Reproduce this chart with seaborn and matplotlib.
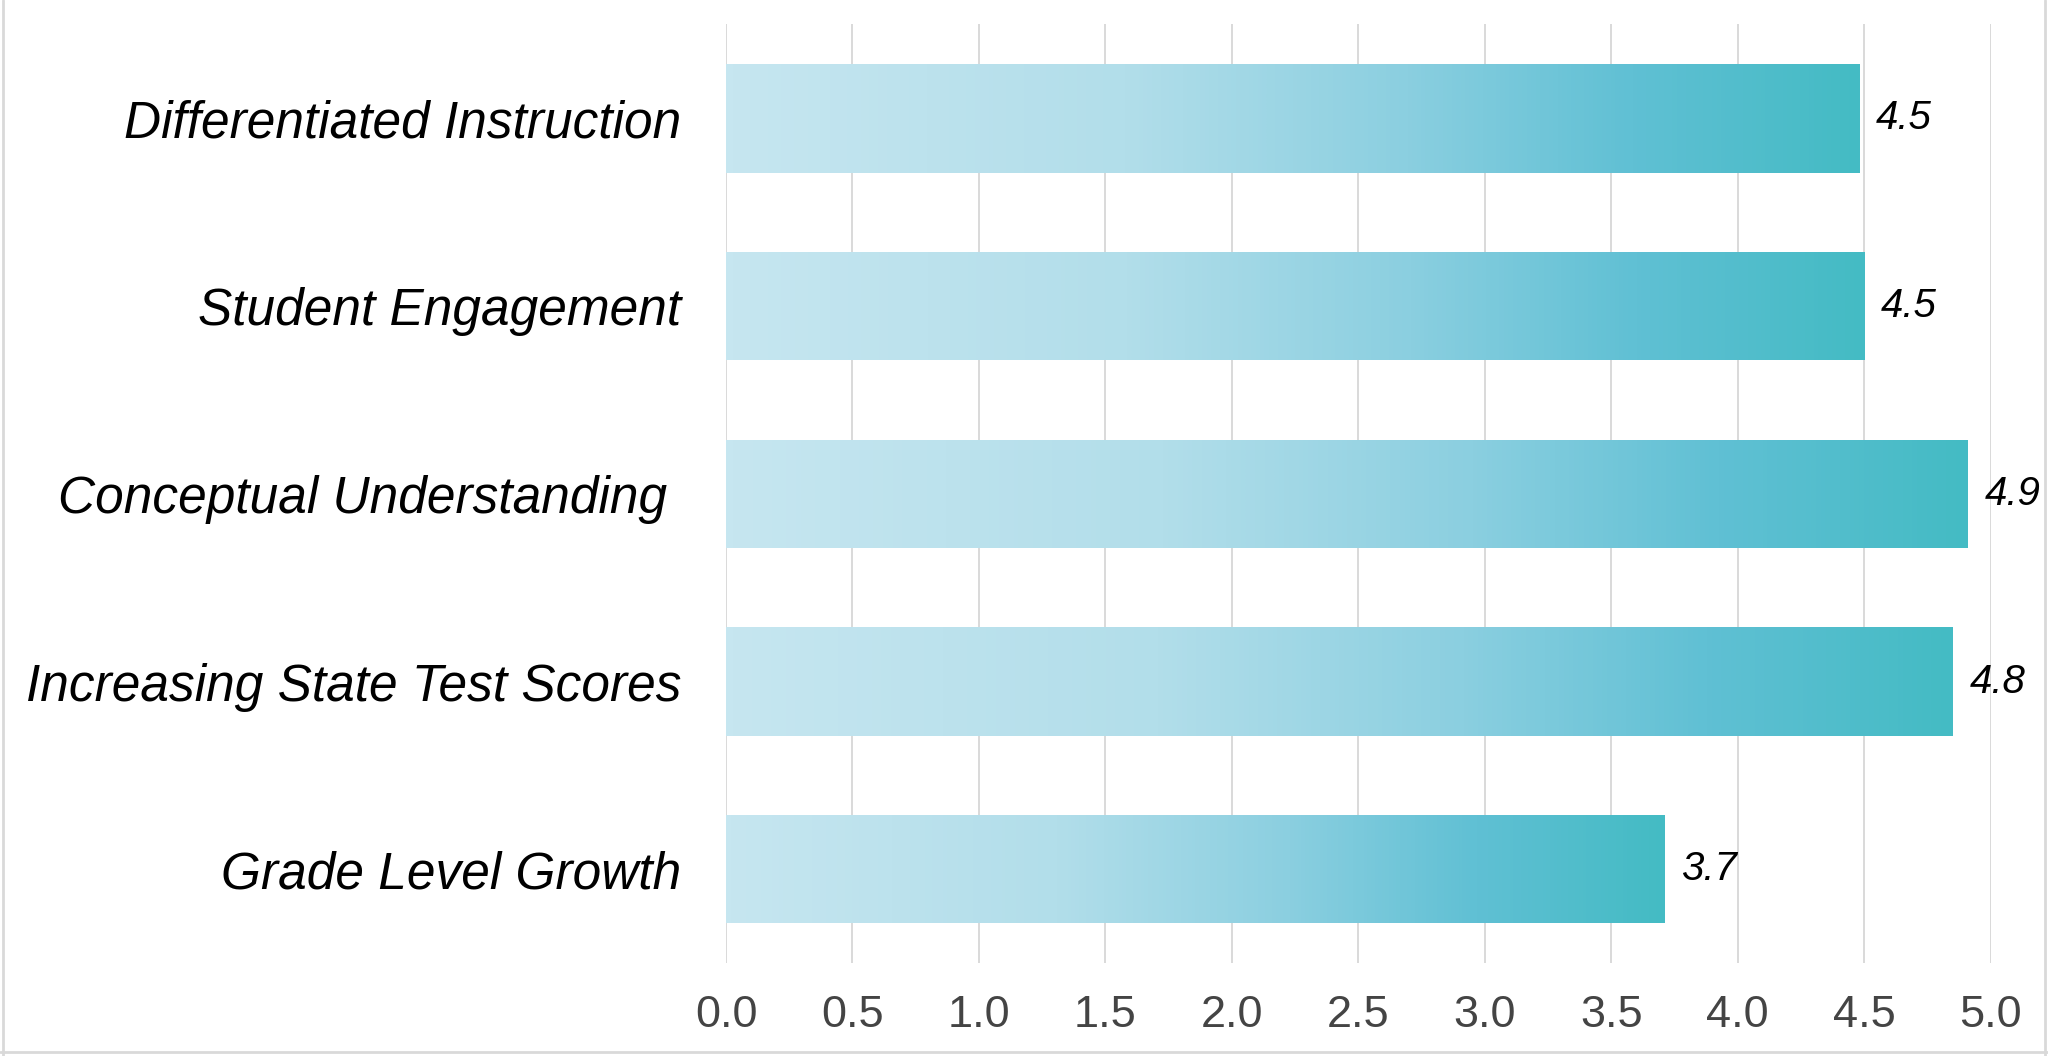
import numpy as np
import pandas as pd
import matplotlib
matplotlib.use("Agg")
import matplotlib.pyplot as plt
from matplotlib.colors import LinearSegmentedColormap
from matplotlib.lines import Line2D
import seaborn as sns

categories = ["Differentiated Instruction", "Student Engagement", "Conceptual Understanding ",
              "Increasing State Test Scores", "Grade Level Growth"]
values = [4.48, 4.50, 4.91, 4.85, 3.71]
value_labels = ["4.5", "4.5", "4.9", "4.8", "3.7"]
x_ticks = [0.0, 0.5, 1.0, 1.5, 2.0, 2.5, 3.0, 3.5, 4.0, 4.5, 5.0]

sns.set_theme(style="white")
plt.rcParams['font.family'] = ['Liberation Sans', 'DejaVu Sans']

df = pd.DataFrame({"category": categories, "value": values})

fig = plt.figure(figsize=(20.48, 10.56), dpi=100)
ax = fig.add_axes([0.3545, 0.088, 0.972 - 0.3545, 0.9768 - 0.088])

sns.barplot(data=df, x="value", y="category", orient="h", ax=ax, width=0.578,
            color="#8fd0e0", saturation=1, linewidth=0, zorder=2)

cmap = LinearSegmentedColormap.from_list("grad", [
    (0.0, "#c6e6f0"), (0.35, "#b2deea"), (0.6, "#8bcfe0"),
    (0.8, "#60c0d4"), (1.0, "#44bbc4")])
grad = np.linspace(0, 1, 256).reshape(1, -1)

ax.set_xlim(0, 5.0)
ax.set_ylim(4.5, -0.5)

for p in ax.patches:
    x0, y0 = p.get_x(), p.get_y()
    w, h = p.get_width(), p.get_height()
    im = ax.imshow(grad, cmap=cmap, aspect="auto", extent=[x0, x0 + w, y0 + h, y0],
                   zorder=2.5, interpolation="bicubic")
    im.set_clip_path(p)
    p.set_facecolor("none")

ax.set_xlim(0, 5.0)
ax.set_ylim(4.5, -0.5)

for i, (v, lab) in enumerate(zip(values, value_labels)):
    ax.annotate(lab, xy=(v, i), xytext=(12, 0), textcoords="offset points",
                ha="left", va="center", fontsize=29, fontstyle="italic",
                color="black", clip_on=False, zorder=5)

ax.set_xticks(x_ticks)
ax.set_xticklabels([f"{t:.1f}" for t in x_ticks])
ax.tick_params(axis="x", length=0, pad=23, labelsize=32.5, labelcolor="#444444")
ax.tick_params(axis="y", length=0, pad=32, labelsize=37, labelcolor="black")
for lbl in ax.get_yticklabels():
    lbl.set_fontstyle("italic")

ax.grid(axis="x", color="#d9d9d9", linewidth=1.4, zorder=0)
ax.set_axisbelow(True)
for s in ax.spines.values():
    s.set_visible(False)
ax.set_xlabel("")
ax.set_ylabel("")

# figure frame
for xs, ys in [([0.0015, 0.0015], [0.0, 1.0]), ([0.9985, 0.9985], [0.0, 1.0]),
               ([0.0, 1.0], [0.004, 0.004])]:
    fig.add_artist(Line2D(xs, ys, transform=fig.transFigure, color="#d9d9d9", linewidth=2))

fig.savefig("out.png", dpi=100)
